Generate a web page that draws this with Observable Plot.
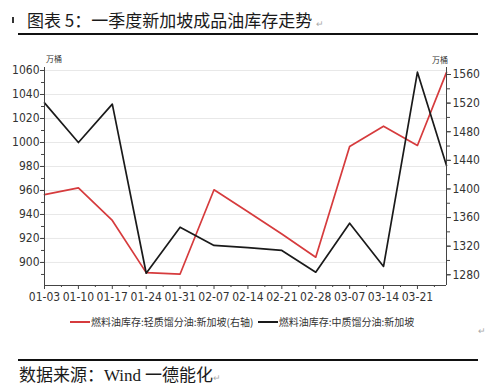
<!DOCTYPE html>
<html><head><meta charset="utf-8">
<script src="https://cdn.jsdelivr.net/npm/d3@7"></script>
<script src="https://cdn.jsdelivr.net/npm/@observablehq/plot@0.6"></script>
<style>
body{margin:0;background:#fff;width:500px;height:389px;position:relative;overflow:hidden;font-family:"Noto Sans CJK SC","Noto Sans",sans-serif;color:#111}
.abs{position:absolute;white-space:nowrap}
#title{left:27px;top:8px;font-size:17px;line-height:24px;color:#1a1a1a}
.rule{position:absolute;left:18px;width:460px;height:2px;background:#111}
.ret{color:#aaa;font-size:9px}
#legend{left:70px;top:314px;font-size:10px;line-height:16px;color:#333}
.sw{display:inline-block;width:20px;height:2px;vertical-align:middle;margin-right:1px;position:relative;top:-1px}
#source{left:19px;top:362px;font-size:17px;line-height:24px;color:#1a1a1a}
.unit{font-size:8px;color:#333;line-height:10px}
#chart{position:absolute;left:0;top:45px}
</style></head><body>
<div class="abs" style="left:12px;top:17px;width:2px;height:6px;background:#333"></div>
<div id="title" class="abs">图表 5：一季度新加坡成品油库存走势 <span class="ret">↵</span></div>
<div class="rule" style="top:33px"></div>
<div class="abs unit" style="left:46px;top:54px">万桶</div>
<div class="abs unit" style="left:432px;top:55px">万桶</div>
<div id="chart"></div>
<div id="legend" class="abs"><span class="sw" style="background:#d63b3d"></span>燃料油库存:轻质馏分油:新加坡(右轴)&nbsp;&nbsp;<span class="sw" style="background:#1a1a1a"></span>燃料油库存:中质馏分油:新加坡</div>
<div class="abs ret" style="left:478px;top:324px">↵</div>
<div class="rule" style="top:359px"></div>
<div id="source" class="abs">数据来源：<span style="font-family:'Liberation Serif',serif">Wind</span> 一德能化<span class="ret">↵</span></div>
<script>
// Weekly dates (2019)
const dates = ["2019-01-03","2019-01-10","2019-01-17","2019-01-24","2019-01-31","2019-02-07","2019-02-14","2019-02-21","2019-02-28","2019-03-07","2019-03-14","2019-03-21","2019-03-27"];
// 燃料油库存:中质馏分油:新加坡 (left axis, 万桶)
const middleDistillates = [1033,1000,1032,891,929.4,914.2,912.3,910,891.9,932.7,896.7,1058.6,980.8];
// 燃料油库存:轻质馏分油:新加坡 (right axis, 万桶)
const lightDistillates = [1392,1401.6,1356,1283,1281,1398.8,1368,1337,1304.6,1459.4,1487.7,1460.8,1563];
// Tick labels
const xTickLabels = ["01-03","01-10","01-17","01-24","01-31","02-07","02-14","02-21","02-28","03-07","03-14","03-21"];
const leftTicks = [900,920,940,960,980,1000,1020,1040,1060];
const rightTicks = [1280,1320,1360,1400,1440,1480,1520,1560];
const year = "2019";

const leftDomain = [880.8, 1062.5];
const rightDomain = [1265, 1569.8];
const toLeft = d3.scaleLinear().domain(rightDomain).range(leftDomain);
const parse = d3.utcParse("%Y-%m-%d");

const blackData = dates.map((d, i) => ({date: parse(d), v: middleDistillates[i]}));
const redData = dates.map((d, i) => ({date: parse(d), v: toLeft(lightDistillates[i])}));
const xTicks = xTickLabels.map(s => parse(year + "-" + s));
const xMinor = xTicks.map(d => d3.utcHour.offset(d, 84));
const xDomain = [parse(dates[0]), parse(dates[dates.length - 1])];
const leftMinor = d3.range(leftTicks[0] - 10, leftTicks[leftTicks.length - 1] + 1, 10);
const rightMinor = d3.range(rightTicks[0], rightTicks[rightTicks.length - 1] + 1, 20).map(toLeft);

const fontFam = "'Liberation Sans Narrow','DejaVu Sans Condensed',Roboto,sans-serif";
const chart = Plot.plot({
  width: 500, height: 265,
  marginTop: 22, marginBottom: 25, marginLeft: 44, marginRight: 54,
  x: {type: "utc", domain: xDomain},
  y: {domain: leftDomain},
  style: {fontFamily: fontFam, fontSize: "12px", color: "#333", background: "transparent", overflow: "visible"},
  marks: [
    Plot.ruleY(leftTicks, {stroke: "#e8e8e8", strokeWidth: 1}),
    Plot.line(redData, {x: "date", y: "v", stroke: "#d63b3d", strokeWidth: 1.7}),
    Plot.line(blackData, {x: "date", y: "v", stroke: "#1a1a1a", strokeWidth: 1.7}),
    Plot.ruleY([leftDomain[0]], {stroke: "#444"}),
    Plot.ruleX([xDomain[0], xDomain[1]], {stroke: "#444"}),
    Plot.axisY({ticks: leftMinor, tickSize: 3, tickFormat: () => "", label: null, stroke: "#444"}),
    Plot.axisY({ticks: leftTicks, tickSize: 4, tickPadding: 1, tickFormat: d => String(d), label: null, stroke: "#444", fill: "#333"}),
    Plot.axisY({anchor: "right", ticks: rightMinor, tickSize: 3, tickFormat: () => "", label: null, stroke: "#444"}),
    Plot.axisY({anchor: "right", ticks: rightTicks.map(toLeft), tickSize: 4, tickPadding: 2, tickFormat: d => String(Math.round(toLeft.invert(d))), label: null, stroke: "#444", fill: "#333"}),
    Plot.axisX({ticks: xMinor, tickSize: 2, tickFormat: () => "", label: null, stroke: "#444"}),
    Plot.axisX({ticks: xTicks, tickSize: 4, tickPadding: 3, tickFormat: d3.utcFormat("%m-%d"), label: null, stroke: "#444", fill: "#333"})
  ]
});
document.getElementById("chart").appendChild(chart);
</script>
</body></html>
